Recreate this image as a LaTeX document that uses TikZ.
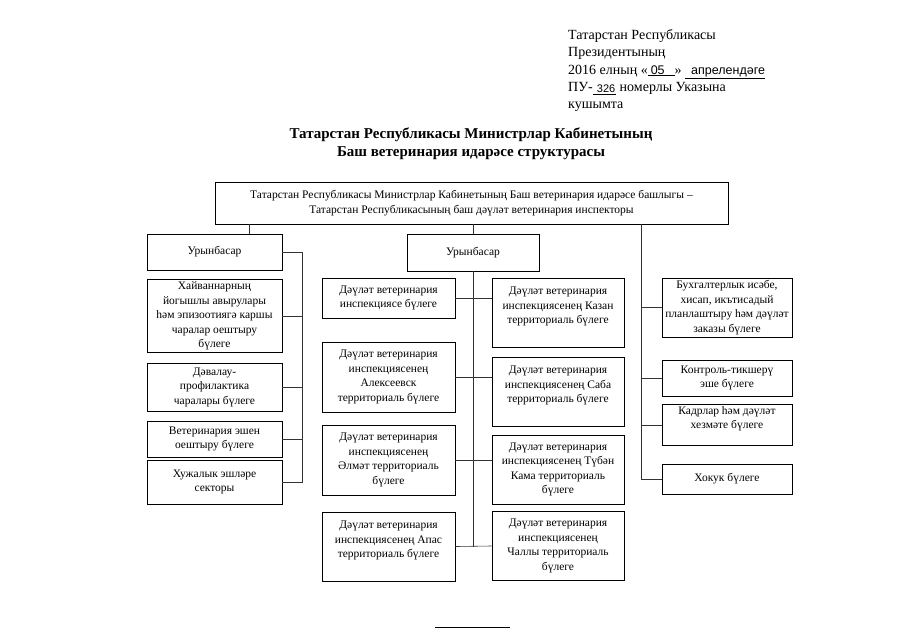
\documentclass[tikz,border=0pt]{standalone}
\usepackage{fontspec}
\setmainfont{Liberation Serif}
\newfontfamily\handfont{Liberation Sans}
\usetikzlibrary{positioning, calc}

\begin{document}
\begin{tikzpicture}[x=1pt, y=-1pt,
  unit/.style={draw, line width=0.8pt, align=center, inner sep=2pt,
    font=\fontsize{11.5}{14.5}\selectfont},
  link/.style={line width=0.6pt, black!80}]
\useasboundingbox (0,0) rectangle (905,640);

% Header
\node[anchor=north west, align=left, inner sep=0pt,
  font=\fontsize{14}{17.4}\selectfont] (decree) at (568,29)
  {Татарстан Республикасы\\
   Президентының\\
   2016 елның «\underline{\hspace{3pt}{\handfont\fontsize{12.5}{14}\selectfont 05}\hspace{10pt}}»
   \underline{\hspace{6pt}{\handfont\fontsize{12.5}{14}\selectfont апрелендәге}}\\
   ПУ-\underline{\hspace{4pt}\raisebox{-1.5pt}{\handfont\fontsize{11}{14}\selectfont 326}\hspace{1pt}} номерлы Указына\\
   кушымта};
\node[align=center, inner sep=0pt, font=\bfseries\fontsize{15}{18}\selectfont]
  (title) at (471,144)
  {Татарстан Республикасы Министрлар Кабинетының\\
   Баш ветеринария идарәсе структурасы};

% Head
\node[unit, minimum width=513pt, minimum height=42pt] (chief) at (471.5,203)
  {Татарстан Республикасы Министрлар Кабинетының Баш ветеринария идарәсе башлыгы --\\
   Татарстан Республикасының баш дәүләт ветеринария инспекторы};

% Left column
\node[unit, minimum width=135pt, minimum height=36pt] (deputyA) at (214.5,252) {Урынбасар};
\node[unit, minimum width=135pt, minimum height=72pt] (epizoo) at (214.5,316)
  {Хайваннарның\\ йогышлы авырулары\\ һәм эпизоотиягә каршы\\ чаралар оештыру\\ бүлеге};
\node[unit, minimum width=135pt, minimum height=48pt] (prophyl) at (214.5,387)
  {Дәвалау-\\ профилактика\\ чаралары бүлеге};
\node[unit, minimum width=135pt, minimum height=36pt] (vetwork) at (214.5,439)
  {Ветеринария эшен\\ оештыру бүлеге};
\node[unit, minimum width=135pt, minimum height=44pt] (econ) at (214.5,482)
  {Хужалык эшләре\\ секторы};

% Middle column
\node[unit, minimum width=132pt, minimum height=37pt] (deputyB) at (473,252.5) {Урынбасар};
\node[unit, minimum width=133pt, minimum height=40pt] (inspect) at (388.5,298)
  {Дәүләт ветеринария\\ инспекциясе бүлеге};
\node[unit, minimum width=133pt, minimum height=70pt] (alekseevsk) at (388.5,377)
  {Дәүләт ветеринария\\ инспекциясенең\\ Алексеевск\\ территориаль бүлеге};
\node[unit, minimum width=133pt, minimum height=70pt] (almet) at (388.5,460)
  {Дәүләт ветеринария\\ инспекциясенең\\ Әлмәт территориаль\\ бүлеге};
\node[unit, minimum width=133pt, minimum height=69pt] (apas) at (388.5,546.5)
  {Дәүләт ветеринария\\ инспекциясенең Апас\\ территориаль бүлеге\\ \mbox{}};
\node[unit, minimum width=132pt, minimum height=69pt] (kazan) at (558,312.5)
  {Дәүләт ветеринария\\ инспекциясенең Казан\\ территориаль бүлеге\\ \mbox{}};
\node[unit, minimum width=132pt, minimum height=69pt] (saba) at (558,391.5)
  {Дәүләт ветеринария\\ инспекциясенең Саба\\ территориаль бүлеге\\ \mbox{}};
\node[unit, minimum width=132pt, minimum height=69pt] (tuben) at (558,469.5)
  {Дәүләт ветеринария\\ инспекциясенең Түбән\\ Кама территориаль\\ бүлеге};
\node[unit, minimum width=132pt, minimum height=69pt] (chally) at (558,546)
  {Дәүләт ветеринария\\ инспекциясенең\\ Чаллы территориаль\\ бүлеге};

% Right column
\node[unit, minimum width=130pt, minimum height=59pt] (account) at (727,307.5)
  {Бухгалтерлык исәбе,\\ хисап, икътисадый\\ планлаштыру һәм дәүләт\\ заказы бүлеге};
\node[unit, minimum width=130pt, minimum height=36pt] (control) at (727,378)
  {Контроль-тикшерү\\ эше бүлеге};
\node[unit, minimum width=130pt, minimum height=40pt] (staff) at (727,425)
  {Кадрлар һәм дәүләт\\ хезмәте бүлеге\\ \mbox{}};
\node[unit, minimum width=130pt, minimum height=30pt] (legal) at (727,479)
  {Хокук бүлеге};

% Spines
\coordinate (leftbus) at (302,0);
\coordinate (rightbus) at (641,0);
\coordinate (stubA) at (249,0);

% Links
\draw[link] (chief.south -| stubA) -- (deputyA.north -| stubA);
\draw[link] (deputyA.east) -| (econ.east -| leftbus) -- (econ.east);
\foreach \n in {epizoo, prophyl, vetwork}
  \draw[link] (\n.east) -- (\n.east -| leftbus);

\draw[link] (chief.south -| deputyB) -- (deputyB.north);
\draw[link] (deputyB.south) -- (deputyB.south |- apas.east);
\draw[link] (inspect.east) -- (inspect.east -| kazan.west);
\draw[link] (alekseevsk.east) -- (alekseevsk.east -| saba.west);
\draw[link] (almet.east) -- (almet.east -| tuben.west);
\draw[link] (apas.east) -- (chally.west);

\draw[link] (chief.south -| rightbus) |- (legal.west);
\foreach \n in {account, control, staff}
  \draw[link] (\n.west) -- (\n.west -| rightbus);

% Footer rule
\draw[line width=0.6pt] (435,627) -- (510,627);
\end{tikzpicture}
\end{document}
